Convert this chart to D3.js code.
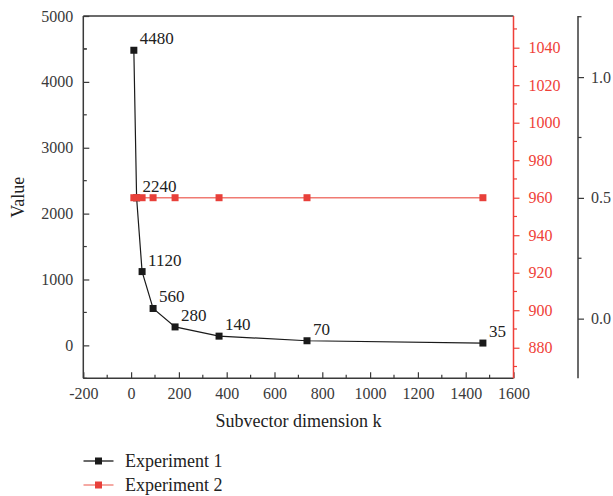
<!DOCTYPE html>
<html>
<head>
<meta charset="utf-8">
<script src="https://cdn.jsdelivr.net/npm/d3@7"></script>
<style>
  html, body { margin: 0; padding: 0; background: #fff; }
  svg { display: block; }
</style>
</head>
<body>
<svg id="chart" width="613" height="496"></svg>
<script>
// ---- data ----
const kValues = [11.5, 23, 46, 92, 184, 368, 736, 1472];
const exp1Values = [4480, 2240, 1120, 560, 280, 140, 70, 35];
const exp2Values = [960, 960, 960, 960, 960, 960, 960, 960];
const seriesNames = ["Experiment 1", "Experiment 2"];
const xTicks = [-200, 0, 200, 400, 600, 800, 1000, 1200, 1400, 1600];
const yTicks = [0, 1000, 2000, 3000, 4000, 5000];
const y2Ticks = [880, 900, 920, 940, 960, 980, 1000, 1020, 1040];
const y3Ticks = [0.0, 0.5, 1.0];
const xTitle = "Subvector dimension k";
const yTitle = "Value";

// ---- layout ----
const FONT = '"Liberation Serif", "Times New Roman", serif';
const svg = d3.select("#chart");
const L = 83.3, R = 513.5, T = 16, B = 378.3;
const axis3X = 578;
const dark = "#3a3a3a";
const red = "#ef3f38";
const redLine = "#f07a72";

const x = d3.scaleLinear().domain([-200, 1600]).range([L, R]);
const y = d3.scaleLinear().domain([-500, 5000]).range([B, T]);
const y2 = d3.scaleLinear().domain([863.7, 1056.9]).range([B, T]);
const y3 = d3.scaleLinear().domain([-0.247, 1.253]).range([B, T]);

const fs = 16;
const intFmt = d => String(d);

function styleAxis(g, color) {
  g.attr("font-family", null);
  g.select(".domain").remove();
  g.selectAll("line").attr("stroke", color).attr("stroke-width", 1.2);
  g.selectAll("text").attr("fill", color)
    .style("font-family", FONT).style("font-size", fs + "px");
}

const xMinor = d3.range(-100, 1600, 200);
const yMinor = d3.range(-500, 5000, 1000).concat([4500]);
const y2Minor = d3.range(870, 1060, 20);
const y3Minor = [-0.25, 0.25, 0.75, 1.25].filter(v => v >= -0.247 && v <= 1.253);

// bottom axis (ticks inward)
const gx = svg.append("g").attr("transform", `translate(0,${B})`)
  .call(d3.axisBottom(x).tickValues(xTicks).tickSize(-6).tickPadding(9).tickFormat(intFmt));
styleAxis(gx, dark);
gx.selectAll("text").attr("dy", "0.71em");
svg.append("g").selectAll("line").data(xMinor).join("line")
  .attr("x1", d => x(d)).attr("x2", d => x(d)).attr("y1", B).attr("y2", B - 3.5)
  .attr("stroke", dark).attr("stroke-width", 1.2);

// left axis (ticks inward)
const gy = svg.append("g").attr("transform", `translate(${L},0)`)
  .call(d3.axisLeft(y).tickValues(yTicks).tickSize(-6).tickPadding(10).tickFormat(intFmt));
styleAxis(gy, dark);
svg.append("g").selectAll("line").data(yMinor).join("line")
  .attr("x1", L).attr("x2", L + 3.5).attr("y1", d => y(d)).attr("y2", d => y(d))
  .attr("stroke", dark).attr("stroke-width", 1.2);

// right red axis (ticks outward)
const gy2 = svg.append("g").attr("transform", `translate(${R},0)`)
  .call(d3.axisRight(y2).tickValues(y2Ticks).tickSize(6).tickPadding(9).tickFormat(intFmt));
styleAxis(gy2, red);
svg.append("g").selectAll("line").data(y2Minor).join("line")
  .attr("x1", R).attr("x2", R + 3.5).attr("y1", d => y2(d)).attr("y2", d => y2(d))
  .attr("stroke", red).attr("stroke-width", 1.2);

// third axis
const gy3 = svg.append("g").attr("transform", `translate(${axis3X},0)`)
  .call(d3.axisRight(y3).tickValues(y3Ticks).tickSize(6).tickPadding(7).tickFormat(d3.format(".1f")));
styleAxis(gy3, dark);
svg.append("g").selectAll("line").data(y3Minor).join("line")
  .attr("x1", axis3X).attr("x2", axis3X + 3.5).attr("y1", d => y3(d)).attr("y2", d => y3(d))
  .attr("stroke", dark).attr("stroke-width", 1.2);

// frame lines
svg.append("line").attr("x1", L).attr("x2", L).attr("y1", T).attr("y2", B).attr("stroke", dark).attr("stroke-width", 1.5);
svg.append("line").attr("x1", L).attr("x2", R).attr("y1", B).attr("y2", B).attr("stroke", dark).attr("stroke-width", 1.5);
svg.append("line").attr("x1", L).attr("x2", R).attr("y1", T).attr("y2", T).attr("stroke", dark).attr("stroke-width", 1.5);
svg.append("line").attr("x1", R).attr("x2", R).attr("y1", T).attr("y2", B).attr("stroke", red).attr("stroke-width", 1.5);
svg.append("line").attr("x1", axis3X).attr("x2", axis3X).attr("y1", T).attr("y2", B).attr("stroke", dark).attr("stroke-width", 1.5);

// axis titles
svg.append("text").attr("x", (L + R) / 2).attr("y", 427).attr("text-anchor", "middle")
  .style("font-family", FONT).style("font-size", "18px").attr("fill", "#222").text(xTitle);
svg.append("text").attr("transform", `translate(24,${(T + B) / 2}) rotate(-90)`).attr("text-anchor", "middle")
  .style("font-family", FONT).style("font-size", "18px").attr("fill", "#222").text(yTitle);

// series 1 (black)
const d1 = kValues.map((k, i) => ({ k, v: exp1Values[i] }));
svg.append("path").datum(d1)
  .attr("d", d3.line().x(d => x(d.k)).y(d => y(d.v)))
  .attr("fill", "none").attr("stroke", "#1a1a1a").attr("stroke-width", 1.2);
svg.append("g").selectAll("rect").data(d1).join("rect")
  .attr("x", d => x(d.k) - 3.5).attr("y", d => y(d.v) - 3.5)
  .attr("width", 7).attr("height", 7).attr("fill", "#1a1a1a");

// series 2 (red) drawn on top
const d2 = kValues.map((k, i) => ({ k, v: exp2Values[i] }));
svg.append("path").datum(d2)
  .attr("d", d3.line().x(d => x(d.k)).y(d => y2(d.v)))
  .attr("fill", "none").attr("stroke", redLine).attr("stroke-width", 1.5);
svg.append("g").selectAll("rect").data(d2).join("rect")
  .attr("x", d => x(d.k) - 3.5).attr("y", d => y2(d.v) - 3.5)
  .attr("width", 7).attr("height", 7).attr("fill", "#e8403a");

// data labels
svg.append("g").selectAll("text").data(d1).join("text")
  .attr("x", d => x(d.k) + 6).attr("y", d => y(d.v) - 6)
  .style("font-family", FONT).style("font-size", "17px").attr("fill", "#222").text(d => d.v);

// legend
const legend = svg.append("g");
const legColors = [["#1a1a1a", "#1a1a1a"], [redLine, "#e8403a"]];
seriesNames.forEach((name, i) => {
  const ly = 461 + i * 24;
  legend.append("line").attr("x1", 83.5).attr("x2", 113.5).attr("y1", ly).attr("y2", ly)
    .attr("stroke", legColors[i][0]).attr("stroke-width", 1.3);
  legend.append("rect").attr("x", 98.5 - 3.5).attr("y", ly - 3.5).attr("width", 7).attr("height", 7)
    .attr("fill", legColors[i][1]);
  legend.append("text").attr("x", 125).attr("y", ly).attr("dy", "0.35em")
    .style("font-family", FONT).style("font-size", "18px").attr("fill", "#222").text(name);
});
</script>
</body>
</html>
